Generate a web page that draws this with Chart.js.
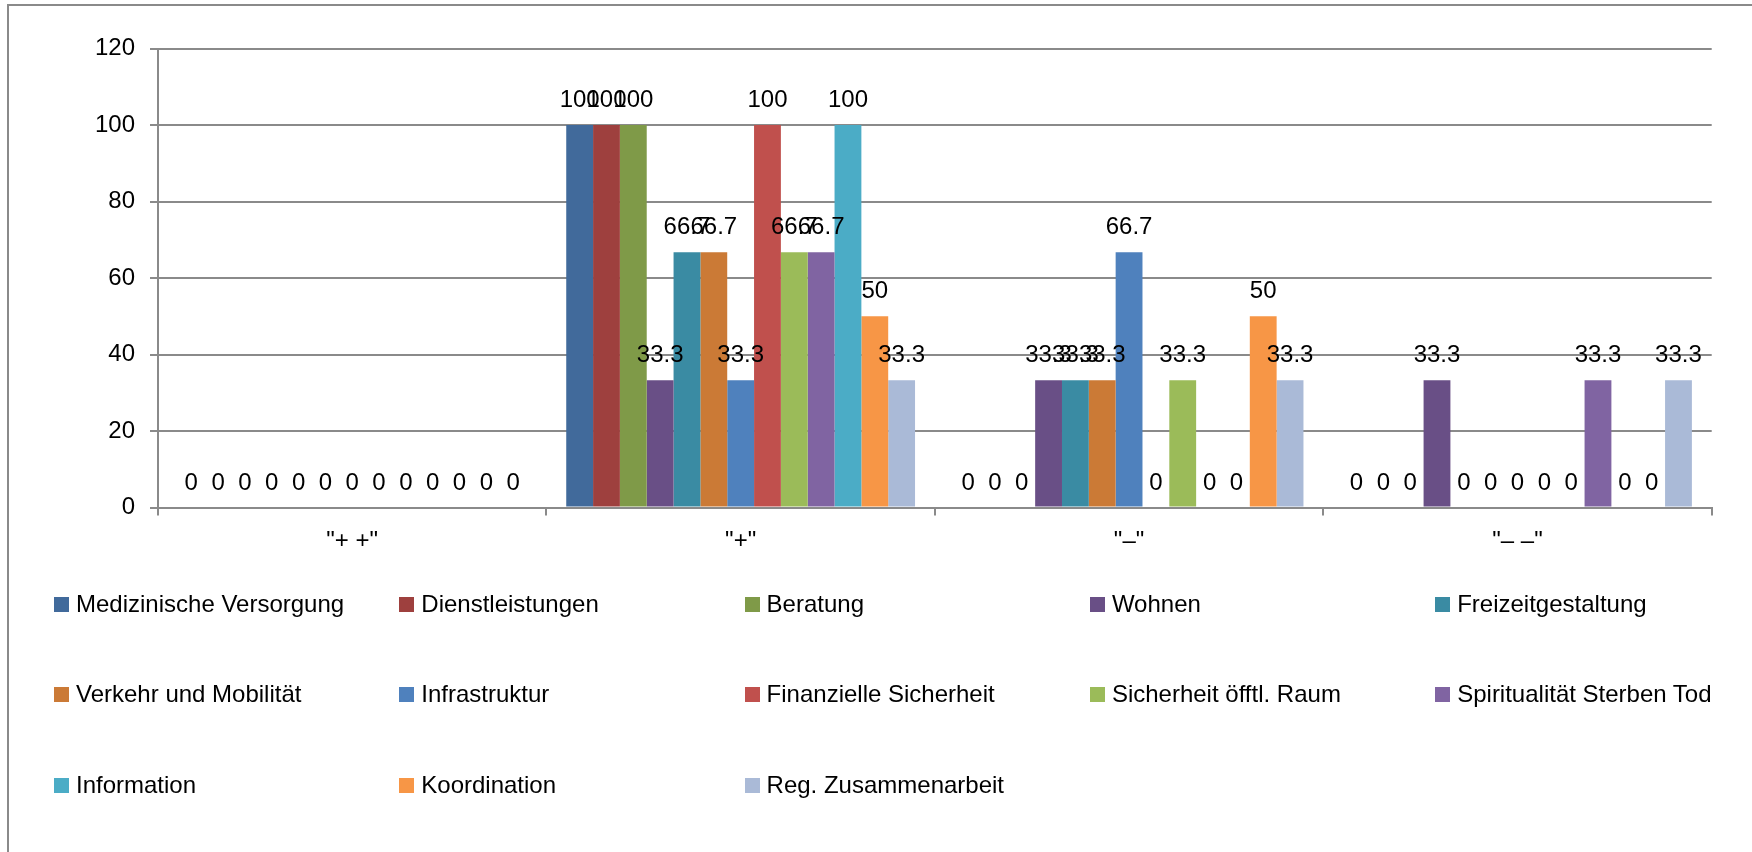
<!DOCTYPE html>
<html>
<head>
<meta charset="utf-8">
<script src="https://cdn.jsdelivr.net/npm/chart.js@4/dist/chart.umd.min.js"></script>
<style>
  body { margin: 0; background: #fff; font-family: "Liberation Sans", Arial, sans-serif; }
  #wrap { position: relative; width: 1752px; height: 852px; overflow: hidden; }
  #frame { position: absolute; left: 7px; top: 4px; width: 1900px; height: 1000px;
           border-left: 2px solid #8a8a8a; border-top: 2px solid #8a8a8a; }
  #chart { position: absolute; left: 0; top: 0; }
  .leg { position: absolute; font-size: 24px; line-height: 24px; color: #000; white-space: nowrap; }
  .leg i { position: absolute; left: -22px; top: 5px; width: 15px; height: 15px; }
</style>
</head>
<body>
<div id="wrap">
  <div id="frame"></div>
  <canvas id="chart" width="1752" height="852"></canvas>
  <div id="legend"></div>
</div>
<script>
// ================= DATA =================

const categories = ['"+ +"', '"+"', '"\u2013"', '"\u2013 \u2013"'];

const seriesNames = [
  "Medizinische Versorgung", "Dienstleistungen", "Beratung", "Wohnen", "Freizeitgestaltung",
  "Verkehr und Mobilität", "Infrastruktur", "Finanzielle Sicherheit", "Sicherheit öfftl. Raum",
  "Spiritualität Sterben Tod", "Information", "Koordination", "Reg. Zusammenarbeit"
];

const seriesColors = [
  "#416a9b", "#9e403e", "#7f9a48", "#694f86", "#3a8ba3", "#cb7a36", "#4f81bd",
  "#c0504d", "#9bbb59", "#8064a2", "#4bacc6", "#f79646", "#aabad7"
];

// one value per series, for each category
const valuesPlusPlus   = [0, 0, 0, 0, 0, 0, 0, 0, 0, 0, 0, 0, 0];
const valuesPlus       = [100, 100, 100, 33.3, 66.7, 66.7, 33.3, 100, 66.7, 66.7, 100, 50, 33.3];
const valuesMinus      = [0, 0, 0, 33.3, 33.3, 33.3, 66.7, 0, 33.3, 0, 0, 50, 33.3];
const valuesMinusMinus = [0, 0, 0, 33.3, 0, 0, 0, 0, 0, 33.3, 0, 0, 33.3];

const yTicks = [0, 20, 40, 60, 80, 100, 120];

// ================= CHART =================

const FONT = "'Liberation Sans', Arial, sans-serif";
const GRID = "#8a8a8a";

const byCategory = [valuesPlusPlus, valuesPlus, valuesMinus, valuesMinusMinus];

const datasets = seriesNames.map((name, i) => ({
  label: name,
  data: byCategory.map(v => v[i]),
  backgroundColor: seriesColors[i],
  categoryPercentage: 0.898,
  barPercentage: 1
}));

// value labels above each bar (they overlap like in the original)
const valueLabels = {
  id: "valueLabels",
  afterDatasetsDraw(chart) {
    const ctx = chart.ctx;
    ctx.save();
    ctx.font = "24px " + FONT;
    ctx.fillStyle = "#000";
    ctx.textAlign = "center";
    ctx.textBaseline = "alphabetic";
    chart.data.datasets.forEach((ds, di) => {
      chart.getDatasetMeta(di).data.forEach((bar, j) => {
        ctx.fillText(String(ds.data[j]), bar.x, bar.y - 18);
      });
    });
    ctx.restore();
  }
};

new Chart(document.getElementById("chart"), {
  type: "bar",
  data: { labels: categories, datasets },
  options: {
    responsive: false,
    animation: false,
    devicePixelRatio: 1,
    layout: { padding: { left: 0, top: 48.5, right: 40.3, bottom: 294.5 } },
    plugins: { legend: { display: false }, tooltip: { enabled: false } },
    scales: {
      x: {
        offset: true,
        grid: { offset: true, drawOnChartArea: false, color: GRID, lineWidth: 2, tickLength: 8 },
        border: { color: GRID, width: 2 },
        ticks: { color: "#000", font: { family: FONT, size: 24 }, padding: 11, maxRotation: 0 },
        afterFit: s => { s.height = 50; }
      },
      y: {
        min: 0,
        max: 120,
        afterBuildTicks: s => { s.ticks = yTicks.map(v => ({ value: v })); },
        grid: { color: GRID, lineWidth: 2, tickLength: 8 },
        border: { color: GRID, width: 2 },
        ticks: { color: "#000", font: { family: FONT, size: 24 }, padding: 15 },
        afterFit: s => { s.width = 158; }
      }
    }
  },
  plugins: [valueLabels]
});

// ================= LEGEND =================

const legendCols = 5;
const legend = document.getElementById("legend");
seriesNames.forEach((name, i) => {
  const col = i % legendCols;
  const row = Math.floor(i / legendCols);
  const el = document.createElement("div");
  el.className = "leg";
  el.style.left = (76 + col * 345.3) + "px";
  el.style.top = (592 + row * 90.3) + "px";
  el.innerHTML = `<i style="background:${seriesColors[i]}"></i>${name}`;
  legend.appendChild(el);
});
</script>
</body>
</html>
